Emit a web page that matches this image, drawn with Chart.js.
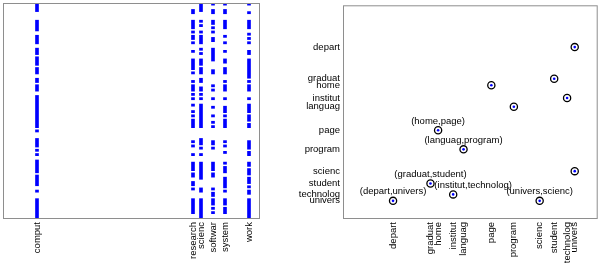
<!DOCTYPE html>
<html><head><meta charset="utf-8">
<script src="https://cdn.jsdelivr.net/npm/chart.js@4.4.1/dist/chart.umd.min.js"></script>
<style>
html,body{margin:0;padding:0;background:#fff;}
#wrap{position:relative;width:602px;height:266px;overflow:hidden;background:#fff;}
#c1{position:absolute;left:0;top:0;width:290px;height:266px;}
#c2{position:absolute;left:290px;top:0;width:312px;height:266px;}
</style></head><body>
<div id="wrap"><canvas id="c1" width="290" height="266"></canvas><canvas id="c2" width="312" height="266"></canvas></div>
<script>
// ---------- Left panel: term occurrence per document ----------
const termLabels = ['comput','research','scienc','softwar','system','work'];
const termIndex  = [9, 48, 50, 53, 56, 62];
const vocabSize  = 64;
const nDocs      = 100;
// runs of documents [firstRow, lastRowExclusive] containing each term
const computRuns   = [[0,4],[8,13],[15,19],[21,24],[25,29],[30,33],[35,37],[38,41],[43,58],[59,60],[63,67],[68,69],[70,71],[73,79],[80,85],[87,88],[91,100]];
const researchRuns = [[3,5],[8,12],[13,14],[15,17],[18,19],[22,23],[26,31],[32,33],[36,37],[38,41],[42,43],[44,45],[47,48],[50,51],[52,53],[54,58],[64,65],[66,67],[70,71],[74,78],[79,81],[83,85],[86,87],[91,98]];
const sciencRuns   = [[0,4],[8,9],[10,11],[13,14],[15,19],[21,22],[23,24],[26,29],[30,33],[35,37],[39,41],[42,43],[44,45],[47,58],[63,66],[67,68],[70,71],[74,82],[86,88],[91,100]];
const softwarRuns  = [[0,1],[3,5],[8,10],[11,12],[13,14],[16,18],[21,27],[31,33],[38,39],[40,41],[44,45],[48,49],[52,53],[55,56],[57,58],[64,66],[67,68],[74,78],[79,81],[86,87],[88,90],[91,94],[95,96],[97,98]];
const systemRuns   = [[0,1],[3,5],[8,12],[15,16],[18,19],[22,23],[26,28],[30,33],[36,37],[38,41],[44,45],[48,51],[52,53],[54,58],[64,65],[66,67],[69,70],[74,75],[76,79],[81,86],[87,88],[91,94],[95,98]];
const workRuns     = [[0,1],[4,5],[8,12],[14,15],[16,17],[18,19],[22,24],[26,35],[36,37],[38,41],[44,45],[47,51],[52,55],[56,58],[64,68],[69,71],[74,76],[77,80],[81,84],[85,86],[87,89],[91,100]];
const termRuns = [computRuns, researchRuns, sciencRuns, softwarRuns, systemRuns, workRuns];

// ---------- Right panel: word pair map ----------
const words   = ['depart','graduat','home','institut','languag','page','program','scienc','student','technolog','univers'];
const wordPos = [0, 0.206, 0.248, 0.331, 0.388, 0.541, 0.665, 0.807, 0.887, 0.958, 1];
const pairFirst  = ['depart','home','languag','graduat','institut','univers'];
const pairSecond = ['univers','page','program','student','technolog','scienc'];
const labelShiftX = [0, 0, 0, 0, 20, 0];

const FONT = {family: '"Liberation Sans", Arial, sans-serif', size: 9.5};
Chart.defaults.font = FONT;
Chart.defaults.color = '#000';

const frame = {
  id: 'frame',
  afterDraw(chart) {
    const a = chart.chartArea, ctx = chart.ctx;
    ctx.save();
    ctx.strokeStyle = '#8e8e8e';
    ctx.lineWidth = 1;
    ctx.strokeRect(a.left + 0.5, a.top + 0.5, a.right - a.left, a.bottom - a.top);
    ctx.restore();
  }
};

// left chart
const leftDatasets = termRuns.map((runs, i) => ({
  label: termLabels[i],
  data: runs.map(r => ({x: termIndex[i], y: [r[0], r[1]]})),
  backgroundColor: '#0000ff',
  borderWidth: 0,
  barThickness: 3,
  grouped: false
}));

new Chart(document.getElementById('c1'), {
  type: 'bar',
  data: {datasets: leftDatasets},
  options: {
    responsive: false, animation: false, devicePixelRatio: 1,
    layout: {padding: {left: 3, top: 3, right: 31, bottom: 0}},
    plugins: {legend: {display: false}, tooltip: {enabled: false}},
    scales: {
      x: {
        type: 'linear', offset: false, min: 0.5, max: vocabSize + 0.5,
        grid: {display: false, drawTicks: false, offset: false}, border: {display: false},
        afterBuildTicks(scale) { scale.ticks = termIndex.map(v => ({value: v})); },
        afterFit(scale) { scale.height = 48; scale.paddingLeft = 0; scale.paddingRight = 0; },
        ticks: {autoSkip: false, minRotation: 90, maxRotation: 90, padding: 4,
                callback(val, idx) { return termLabels[idx]; }}
      },
      y: {type: 'linear', display: false, reverse: true, min: 0, max: nDocs}
    }
  },
  plugins: [frame]
});

// right chart
const idxOf = w => words.indexOf(w);
const labeledPts = pairFirst.map((a, i) => {
  const pa = wordPos[idxOf(a)], pb = wordPos[idxOf(pairSecond[i])];
  return {x: Math.min(pa, pb), y: Math.max(pa, pb)};
});
const mirrorPts = pairFirst.map((a, i) => {
  const pa = wordPos[idxOf(a)], pb = wordPos[idxOf(pairSecond[i])];
  return {x: Math.max(pa, pb), y: Math.min(pa, pb)};
});
const allPts = labeledPts.concat(mirrorPts);

const pairLabels = {
  id: 'pairLabels',
  afterDatasetsDraw(chart) {
    const ctx = chart.ctx, xs = chart.scales.x, ys = chart.scales.y;
    ctx.save();
    ctx.font = FONT.size + 'px ' + FONT.family;
    ctx.fillStyle = '#000';
    ctx.textAlign = 'center';
    ctx.textBaseline = 'middle';
    labeledPts.forEach((p, i) => {
      const px = xs.getPixelForValue(p.x) + labelShiftX[i];
      const py = ys.getPixelForValue(p.y) - 9;
      ctx.fillText('(' + pairFirst[i] + ',' + pairSecond[i] + ')', px, py);
    });
    ctx.restore();
  }
};

new Chart(document.getElementById('c2'), {
  type: 'scatter',
  data: {datasets: [
    {data: allPts, pointRadius: 1.3, pointBorderWidth: 0, pointBackgroundColor: '#0000ff', pointBorderColor: '#0000ff'},
    {data: allPts, pointRadius: 3.6, pointBorderColor: '#000', pointBackgroundColor: '#fff', pointBorderWidth: 1.3}
  ]},
  options: {
    responsive: false, animation: false, devicePixelRatio: 1,
    layout: {padding: {left: 0, top: 3, right: 2, bottom: 0}},
    plugins: {legend: {display: false}, tooltip: {enabled: false}},
    scales: {
      x: {
        type: 'linear', min: -0.2755, max: 1.121,
        grid: {display: false, drawTicks: false}, border: {display: false},
        afterBuildTicks(scale) { scale.ticks = wordPos.map(v => ({value: v})); },
        afterFit(scale) { scale.height = 48; scale.paddingLeft = 0; scale.paddingRight = 0; },
        ticks: {autoSkip: false, minRotation: 90, maxRotation: 90, padding: 4,
                callback(val, idx) { return words[idx]; }}
      },
      y: {
        type: 'linear', reverse: true, min: -0.272, max: 1.1116,
        grid: {display: false, drawTicks: false}, border: {display: false},
        afterBuildTicks(scale) { scale.ticks = wordPos.map(v => ({value: v})); },
        afterFit(scale) { scale.width = 53; scale.paddingTop = 0; scale.paddingBottom = 0; },
        ticks: {autoSkip: false, padding: 3,
                callback(val, idx) { return words[idx]; }}
      }
    }
  },
  plugins: [frame, pairLabels]
});
</script>
</body></html>
